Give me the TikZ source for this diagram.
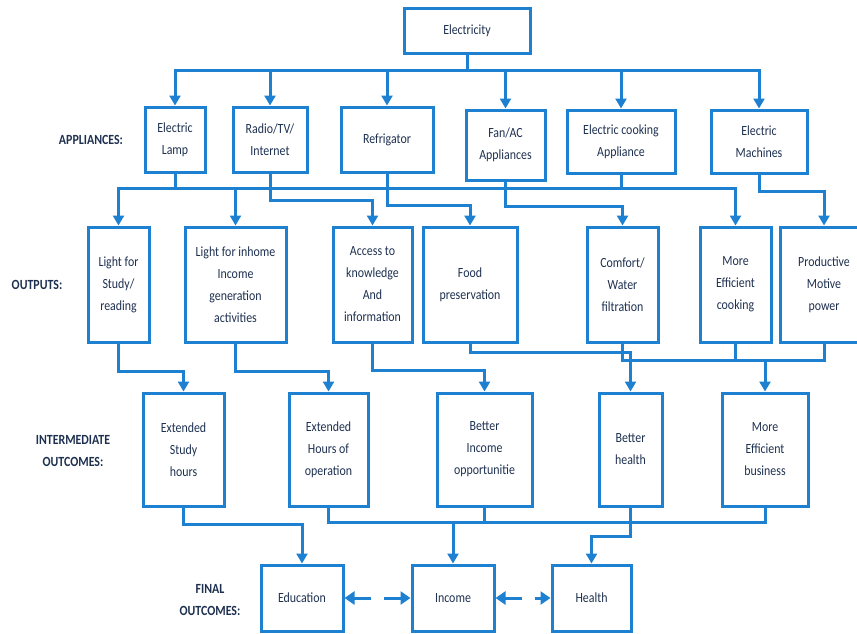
\documentclass[tikz,border=0pt]{standalone}
\usepackage{fontspec}
\setmainfont{Carlito}[FakeStretch=0.85]
\usetikzlibrary{arrows.meta}
\definecolor{lineblue}{RGB}{30,128,208}
\definecolor{txtnavy}{RGB}{30,48,80}
\begin{document}
\begin{tikzpicture}[x=1pt,y=-1pt,
  box/.style={draw=lineblue, line width=3pt, rectangle, inner sep=0pt, align=center,
    text=txtnavy, font=\fontsize{14}{22}\selectfont},
  lbl/.style={align=center, text=txtnavy, font=\bfseries\fontsize{14}{22.5}\selectfont},
  conn/.style={draw=lineblue, line width=3pt, line join=miter},
  conna/.style={conn, -{Triangle[width=11pt,length=10pt]}},
  darr/.style={conn, {Triangle[width=13pt,length=10pt]}-{Triangle[width=13pt,length=10pt]}, dash pattern=on 17pt off 13pt}]
\useasboundingbox (0,0) rectangle (857,633);
\clip (0,0) rectangle (857,633);
% top
\node[box, minimum width=126pt, minimum height=45pt] (elec) at (467,30.5) {Electricity};
% appliances
\node[box, minimum width=60pt, minimum height=65pt] (lamp) at (175,139.5) {Electric\\Lamp};
\node[box, minimum width=74pt, minimum height=65pt] (radio) at (270,139.5) {Radio/TV/\\Internet};
\node[box, minimum width=92pt, minimum height=65pt] (fridge) at (387,139.5) {Refrigator};
\node[box, minimum width=79pt, minimum height=70pt] (fan) at (505.5,145) {Fan/AC\\Appliances};
\node[box, minimum width=108pt, minimum height=63pt] (cook) at (621,141.5) {Electric cooking\\Appliance};
\node[box, minimum width=96pt, minimum height=63pt] (mach) at (759,141.5) {Electric\\Machines};
% outputs
\node[box, minimum width=61pt, minimum height=115pt] (study) at (118.5,284.5) {Light for\\Study/\\reading};
\node[box, minimum width=101pt, minimum height=115pt] (inhome) at (235.5,284.5) {Light for inhome\\Income\\generation\\activities};
\node[box, minimum width=79pt, minimum height=115pt] (access) at (372.5,284.5) {Access to\\knowledge\\And\\information};
\node[box, minimum width=94pt, minimum height=115pt] (food) at (470,284.5) {Food\\preservation};
\node[box, minimum width=71pt, minimum height=115pt] (comfort) at (622.5,284.5) {Comfort/\\Water\\filtration};
\node[box, minimum width=71pt, minimum height=115pt] (effcook) at (735.5,284.5) {More\\Efficient\\cooking};
\node[box, minimum width=88pt, minimum height=115pt] (motive) at (824,284.5) {Productive\\Motive\\power};
% intermediate
\node[box, minimum width=81pt, minimum height=113pt] (extstudy) at (183.5,449.5) {Extended\\Study\\hours};
\node[box, minimum width=79pt, minimum height=113pt] (exthours) at (328.5,449.5) {Extended\\Hours of\\operation};
\node[box, minimum width=95pt, minimum height=113pt] (betinc) at (484.5,449.5) {Better\\Income\\opportunitie};
\node[box, minimum width=63pt, minimum height=113pt] (bethealth) at (630.5,449.5) {Better\\health};
\node[box, minimum width=86pt, minimum height=113pt] (effbus) at (765,449.5) {More\\Efficient\\business};
% final
\node[box, minimum width=82pt, minimum height=66pt] (edu) at (302,598) {Education};
\node[box, minimum width=82pt, minimum height=66pt] (inc) at (453,598) {Income};
\node[box, minimum width=79pt, minimum height=66pt] (health) at (591.5,598) {Health};
% row labels
\node[lbl] (lapp) at (91,140) {APPLIANCES:};
\node[lbl] (lout) at (37,285) {OUTPUTS:};
\node[lbl] (lint) at (73,451) {INTERMEDIATE\\OUTCOMES:};
\node[lbl] (lfin) at (210,600) {FINAL\\OUTCOMES:};
% electricity to appliances
\draw[conna] (elec.south) |- ([yshift=35pt]lamp.north) -- (lamp.north);
\draw[conna] (elec.south) |- ([yshift=35pt]radio.north) -- (radio.north);
\draw[conna] (elec.south) |- ([yshift=35pt]fridge.north) -- (fridge.north);
\draw[conna] (elec.south) |- ([yshift=38pt]fan.north) -- (fan.north);
\draw[conna] (elec.south) |- ([yshift=38pt]cook.north) -- (cook.north);
\draw[conna] (elec.south) |- ([yshift=38pt]mach.north) -- (mach.north);
% appliances to outputs
\draw[conn] ([yshift=37pt]study.north) -- ([yshift=37pt]effcook.north);
\draw[conna] (lamp.south) |- ([yshift=37pt]study.north) -- (study.north);
\draw[conna] (lamp.south) |- ([yshift=37pt]inhome.north) -- (inhome.north);
\draw[conna] (cook.south) |- ([yshift=37pt]effcook.north) -- (effcook.north);
\draw[conna] (radio.south) |- ([yshift=25pt]access.north) -- (access.north);
\draw[conna] (fridge.south) |- ([yshift=20pt]food.north) -- (food.north);
\draw[conna] (fan.south) |- ([yshift=19pt]comfort.north) -- (comfort.north);
\draw[conna] (mach.south) |- ([yshift=34pt]motive.north) -- (motive.north);
% outputs to intermediate
\draw[conna] (study.south) |- ([yshift=20pt]extstudy.north) -- (extstudy.north);
\draw[conna] (inhome.south) |- ([yshift=20pt]exthours.north) -- (exthours.north);
\draw[conna] (access.south) |- ([yshift=21pt]betinc.north) -- (betinc.north);
\draw[conna] (food.south) |- ([yshift=39pt]bethealth.north) -- (bethealth.north);
\draw[conna] (comfort.south) |- ([yshift=31pt]effbus.north) -- (effbus.north);
\draw[conn] (effcook.south) |- ([yshift=31pt]effbus.north);
\draw[conn] (motive.south) |- ([yshift=31pt]effbus.north);
% intermediate to final
\draw[conna] (extstudy.south) |- ([yshift=39pt]edu.north) -- (edu.north);
\draw[conna] (exthours.south) |- ([yshift=41pt]inc.north) -- (inc.north);
\draw[conn] (betinc.south) |- ([yshift=41pt]inc.north);
\draw[conn] (effbus.south) |- ([yshift=41pt]inc.north);
\draw[conna] (bethealth.south) |- ([yshift=27pt]health.north) -- (health.north);
% final links
\draw[darr] (edu.east) -- (inc.west);
\draw[darr] (inc.east) -- (health.west);
\end{tikzpicture}
\end{document}
